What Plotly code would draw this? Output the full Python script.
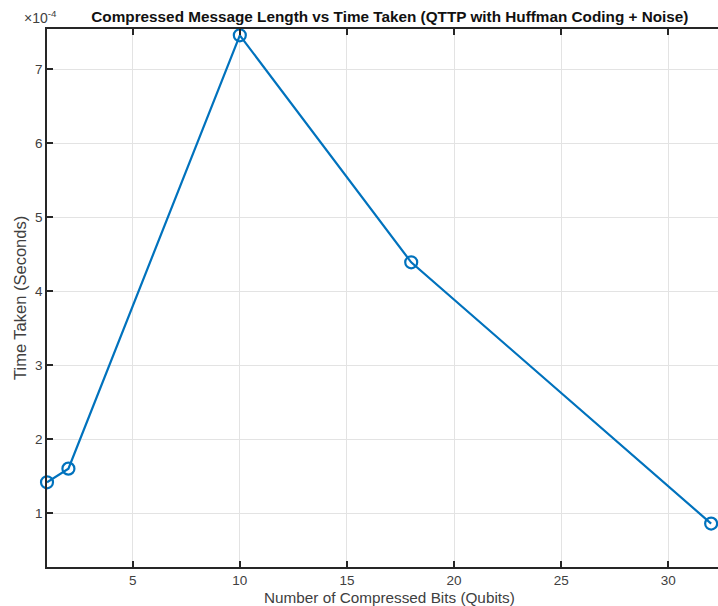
import plotly.graph_objects as go

bits = [1, 2, 10, 18, 32]
time_s = [1.415e-4, 1.60e-4, 7.46e-4, 4.39e-4, 0.857e-4]
x_ticks = [5, 10, 15, 20, 25, 30]
y_ticks = [1e-4, 2e-4, 3e-4, 4e-4, 5e-4, 6e-4, 7e-4]
y_tick_text = ["1", "2", "3", "4", "5", "6", "7"]

blue = "#0072BD"
axc = "#262626"
txt = "#404040"
font = "Liberation Sans, Arial, sans-serif"

fig = go.Figure()
fig.add_trace(go.Scatter(
    x=bits, y=time_s, mode="lines+markers",
    line=dict(color=blue, width=2.2),
    marker=dict(symbol="circle-open", size=12, color=blue, line=dict(width=2.2, color=blue)),
    cliponaxis=False, showlegend=False,
))

fig.update_layout(
    width=718, height=606,
    margin=dict(l=47, r=0, t=29, b=39),
    paper_bgcolor="white", plot_bgcolor="white",
    font=dict(family=font, size=13, color=axc),
    title=dict(text="<b>Compressed Message Length vs Time Taken (QTTP with Huffman Coding + Noise)</b>",
               x=0.543, xanchor="center", y=0.972, yanchor="middle",
               font=dict(size=15.3, color="#111111")),
)
fig.update_xaxes(
    range=[1, 32.32], tickvals=x_ticks, ticks="inside", ticklen=6, tickwidth=1.5,
    tickcolor=axc, showline=True, linecolor=axc, linewidth=1.5, mirror="ticks",
    showgrid=True, gridcolor="#e3e3e3", gridwidth=1.2, zeroline=False,
    tickfont=dict(size=13.5, color=txt),
)
fig.update_yaxes(
    range=[0.27e-4, 7.545e-4], tickvals=y_ticks, ticktext=y_tick_text, ticks="inside", ticklen=6,
    tickwidth=1.5, tickcolor=axc, showline=True, linecolor=axc, linewidth=1.5, mirror=False,
    showgrid=True, gridcolor="#e3e3e3", gridwidth=1.2, zeroline=False,
    tickfont=dict(size=13.5, color=txt),
)
fig.add_annotation(
    text="Number of Compressed Bits (Qubits)", xref="paper", yref="paper",
    x=(389 - 47) / 671, y=-(597 - 567) / 538, xanchor="center", yanchor="middle",
    showarrow=False, font=dict(size=15.3, color=txt),
)
fig.add_annotation(
    text="Time Taken (Seconds)", xref="paper", yref="paper", textangle=-90,
    x=-(47 - 20) / 671, y=(567 - 298) / 538, xanchor="center", yanchor="middle",
    showarrow=False, font=dict(size=16.5, color=txt),
)
fig.add_annotation(
    text="×10<sup>-4</sup>", xref="paper", yref="paper", x=-0.038, y=1.0, xanchor="left", yanchor="bottom",
    yshift=1, showarrow=False, font=dict(size=14, color=txt),
)
fig.write_html("out.html")
